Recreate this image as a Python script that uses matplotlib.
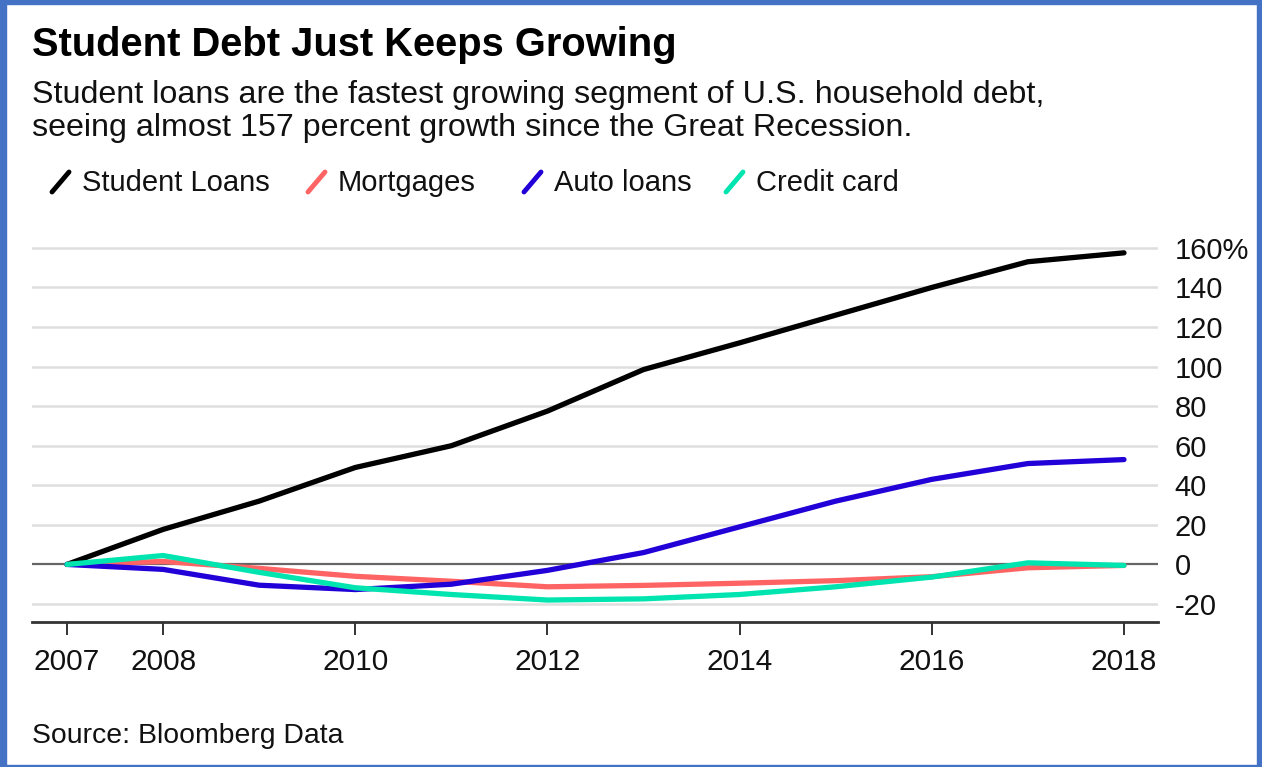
import matplotlib
matplotlib.use("Agg")
import matplotlib.pyplot as plt
from matplotlib.lines import Line2D
from matplotlib.patches import Rectangle

plt.rcParams['font.family'] = ['Liberation Sans', 'DejaVu Sans']

years = [2007, 2008, 2009, 2010, 2011, 2012, 2013, 2014, 2015, 2016, 2017, 2018]
student_loans = [0, 17.7, 32, 49, 60, 77.5, 98.5, 112, 126, 140, 153, 157.5]
mortgages = [0, 1.5, -2, -6, -8.5, -11.3, -10.6, -9.5, -8.2, -6.2, -1.7, -0.5]
auto_loans = [0, -2.5, -10.5, -12.7, -10, -3, 6, 19, 32, 43, 51, 53]
credit_card = [0, 4.5, -4, -11.8, -15.2, -18, -17.4, -15.2, -11.3, -6.4, 0.8, -0.5]

series_names = ["Student Loans", "Mortgages", "Auto loans", "Credit card"]
series_values = [student_loans, mortgages, auto_loans, credit_card]
series_colors = ["#000000", "#ff6464", "#2200d8", "#00e5b0"]

xtick_years = [2007, 2008, 2010, 2012, 2014, 2016, 2018]
ytick_values = [-20, 0, 20, 40, 60, 80, 100, 120, 140, 160]

W, H = 1262, 767
fig = plt.figure(figsize=(W / 100, H / 100), dpi=100)

# Axes placement in pixels
ax_left, ax_right, ax_top, ax_bottom = 32, 1158, 238, 622
ax = fig.add_axes([ax_left / W, 1 - ax_bottom / H, (ax_right - ax_left) / W, (ax_bottom - ax_top) / H])

for name, vals, col in zip(series_names, series_values, series_colors):
    ax.plot(years, vals, color=col, lw=3.8, solid_capstyle='round', solid_joinstyle='round', zorder=3)

ax.set_xlim(2006.636, 2018.354)
ax.set_ylim(-29.1, 165)

for v in ytick_values:
    if v == 0:
        ax.axhline(v, color="#666666", lw=1.6, zorder=2)
    else:
        ax.axhline(v, color="#dedede", lw=1.8, zorder=1)

for s in ['top', 'left', 'right']:
    ax.spines[s].set_visible(False)
ax.spines['bottom'].set_color('#333333')
ax.spines['bottom'].set_linewidth(2)

ax.set_xticks(xtick_years)
ax.set_xticklabels([str(y) for y in xtick_years], fontsize=21.5, color='#111111')
ax.tick_params(axis='x', length=9, width=1.4, color='#333333', pad=10)

ax.yaxis.tick_right()
ax.set_yticks(ytick_values)
ax.set_yticklabels([f"{v}%" if v == 160 else str(v) for v in ytick_values], fontsize=21, color='#111111')
ax.tick_params(axis='y', length=0, pad=12)
for lbl in ax.get_yticklabels():
    lbl.set_horizontalalignment('left')

# Titles
fig.text(32 / W, 1 - 45 / H, "Student Debt Just Keeps Growing", fontsize=28.7, fontweight='bold',
         va='center', ha='left', color='#000000')
fig.text(32 / W, 1 - 95 / H, "Student loans are the fastest growing segment of U.S. household debt,",
         fontsize=23.2, va='center', ha='left', color='#111111')
fig.text(32 / W, 1 - 128 / H, "seeing almost 157 percent growth since the Great Recession.",
         fontsize=23.2, va='center', ha='left', color='#111111')

# Legend (manual, diagonal handles)
legend_x = [52, 308, 524, 726]
ly = 182
for x0, name, col in zip(legend_x, series_names, series_colors):
    fig.add_artist(Line2D([x0 / W, (x0 + 17) / W], [1 - (ly + 10) / H, 1 - (ly - 10) / H],
                          transform=fig.transFigure, color=col, lw=3.5, solid_capstyle='round'))
    fig.text((x0 + 30) / W, 1 - (ly + 1) / H, name, fontsize=21, va='center', ha='left', color='#111111')

fig.text(32 / W, 1 - 736 / H, "Source: Bloomberg Data", fontsize=20.4, va='center', ha='left', color='#111111')

# Blue border
border = "#4472c4"
fig.add_artist(Rectangle((0, 0), 6 / W, 1, transform=fig.transFigure, color=border, zorder=10))
fig.add_artist(Rectangle((1 - 5 / W, 0), 5 / W, 1, transform=fig.transFigure, color=border, zorder=10))
fig.add_artist(Rectangle((0, 1 - 4 / H), 1, 4 / H, transform=fig.transFigure, color=border, zorder=10))
fig.add_artist(Rectangle((0, 0), 1, 2.5 / H, transform=fig.transFigure, color=border, zorder=10))

fig.savefig("out.png", dpi=100)
